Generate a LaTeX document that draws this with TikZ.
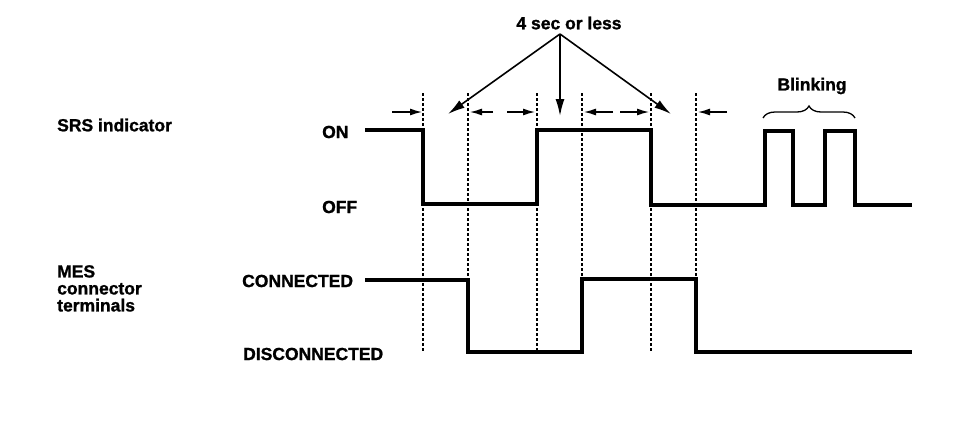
\documentclass[tikz,border=0pt]{standalone}
\usepackage{fontspec}
\setmainfont{Liberation Sans}[BoldFeatures={FakeBold=1.2}]
\usetikzlibrary{arrows.meta,decorations.pathreplacing}
\begin{document}
\begin{tikzpicture}[x=1pt,y=-1pt,
  lbl/.style={font=\bfseries\fontsize{17.5}{17}\selectfont, inner sep=0pt},
  signal/.style={line width=3.2pt, line join=miter},
  guide/.style={line width=1.7pt, dash pattern=on 3pt off 2pt},
  dimarrow/.style={line width=1.3pt, -{Latex[length=12pt,width=7pt]}},
  bigarrow/.style={line width=1.6pt, -{Latex[length=17pt,width=9pt]}}]
\useasboundingbox (0,0) rectangle (960,424);

% labels
\node[lbl,anchor=west] (srs) at (57,125) {SRS indicator};
\node[lbl,anchor=north west,align=left] (mes) at (57,265) {MES\\connector\\terminals};
\node[lbl,anchor=west] (on) at (322,132) {ON};
\node[lbl,anchor=west] (off) at (322,207) {OFF};
\node[lbl,anchor=west] (con) at (242,281) {CONNECTED};
\node[lbl,anchor=west] (dis) at (243,354) {DISCONNECTED};
\node[lbl] (four) at (569,23) {4 sec or less};
\node[lbl] (blink) at (812,86) {Blinking};

% guide lines
\foreach \x in {423,468,537,582,651,696}
  \draw[guide] (\x,93) -- (\x,352);

% signals
\draw[signal] (365,130) -- (423,130) -- (423,204) -- (537,204) -- (537,130)
  -- (651,130) -- (651,205) -- (765,205) -- (765,131) -- (793,131) -- (793,205)
  -- (825,205) -- (825,131) -- (855,131) -- (855,205) -- (912,205);
\draw[signal] (365,280) -- (468,280) -- (468,352) -- (582,352) -- (582,279)
  -- (696,279) -- (696,352) -- (912,352);

% dimension arrows
\coordinate (d1a) at (392,112); \coordinate (d1b) at (422,112);
\coordinate (d2a) at (493,112); \coordinate (d2b) at (470,112);
\coordinate (d3a) at (507,112); \coordinate (d3b) at (535,112);
\coordinate (d4a) at (613,112); \coordinate (d4b) at (584,112);
\coordinate (d5a) at (620,112); \coordinate (d5b) at (649,112);
\coordinate (d6a) at (727,112); \coordinate (d6b) at (698,112);
\draw[dimarrow] (d1a) -- (d1b);
\draw[dimarrow] (d2a) -- (d2b);
\draw[dimarrow] (d3a) -- (d3b);
\draw[dimarrow] (d4a) -- (d4b);
\draw[dimarrow] (d5a) -- (d5b);
\draw[dimarrow] (d6a) -- (d6b);

% big arrows
\coordinate (apex) at (560,34);
\coordinate (tl) at (448,114);
\coordinate (tm) at (560,116);
\coordinate (tr) at (671,114);
\draw[bigarrow] (apex) -- (tl);
\draw[bigarrow] (apex) -- (tm);
\draw[bigarrow] (apex) -- (tr);

% brace
\draw[decorate,decoration={brace,amplitude=12pt},line width=1.3pt] (763,118) -- (855,118);
\end{tikzpicture}
\end{document}
